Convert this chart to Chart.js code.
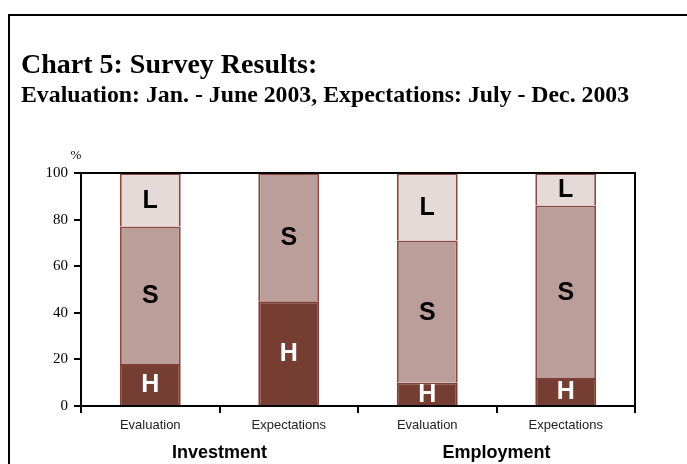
<!DOCTYPE html>
<html>
<head>
<meta charset="utf-8">
<script src="https://cdn.jsdelivr.net/npm/chart.js@4"></script>
<style>
  html, body { margin: 0; padding: 0; background: #fff; }
  #wrap { position: relative; width: 687px; height: 464px; }
</style>
</head>
<body>
<div id="wrap"><canvas id="survey_chart" width="687" height="464"></canvas></div>
<script>
// categories and groups
var categories = ['Evaluation', 'Expectations', 'Evaluation', 'Expectations'];
var groups = ['Investment', 'Employment'];
// shares in % (H = high, S = same, L = low)
var hValues = [18, 45, 10, 12];
var sValues = [59, 55, 61, 74];
var lValues = [23, 0, 29, 14];
var segmentNames = ['H', 'S', 'L'];
var yTicks = [0, 20, 40, 60, 80, 100];

var titleText = 'Chart 5: Survey Results:';
var subtitleText = 'Evaluation: Jan. - June 2003, Expectations: July - Dec. 2003';

// frame, titles, plot box and the letters in the bars
var decorations = {
    id: 'decorations',
    beforeDraw: function(chart) {
        var c = chart.ctx;
        c.save();
        c.fillStyle = '#fff';
        c.fillRect(0, 0, chart.width, chart.height);
        c.strokeStyle = '#000';
        c.lineWidth = 2;
        c.beginPath();
        c.moveTo(9, chart.height);
        c.lineTo(9, 15);
        c.lineTo(chart.width, 15);
        c.stroke();
        c.fillStyle = '#000';
        c.textBaseline = 'alphabetic';
        c.font = 'bold 28px "Liberation Serif"';
        c.fillText(titleText, 21, 73);
        c.font = 'bold 23.8px "Liberation Serif"';
        c.fillText(subtitleText, 21, 102);
        c.font = '13px "Liberation Serif"';
        c.textAlign = 'center';
        c.fillText('%', chart.chartArea.left - 5, chart.chartArea.top - 14);
        c.restore();
    },
    afterDraw: function(chart) {
        var a = chart.chartArea;
        var c = chart.ctx;
        c.save();
        c.strokeStyle = '#000';
        c.lineWidth = 2;
        c.strokeRect(a.left, a.top, a.right - a.left, a.bottom - a.top);
        c.textAlign = 'center';
        c.textBaseline = 'middle';
        c.font = 'bold 25px "Liberation Sans"';
        chart.data.datasets.forEach(function(ds, i) {
            var meta = chart.getDatasetMeta(i);
            meta.data.forEach(function(bar, j) {
                if (!ds.data[j]) return;
                c.fillStyle = i === 0 ? '#fff' : '#000';
                c.fillText(segmentNames[i], bar.x, (bar.y + bar.base) / 2 + 1);
            });
        });
        c.restore();
    }
};

function init() {
    var ctx = document.getElementById('survey_chart').getContext('2d');
    new Chart(ctx, {
        type: 'bar',
        data: {
            labels: categories,
            datasets: [
                { label: 'H', data: hValues, backgroundColor: '#763d33', borderColor: '#7e4036', borderWidth: 2 },
                { label: 'S', data: sValues, backgroundColor: '#bb9e99', borderColor: '#8a4a40', borderWidth: 2 },
                { label: 'L', data: lValues, backgroundColor: '#e6dad8', borderColor: '#8a4a40', borderWidth: 2 }
            ]
        },
        options: {
            responsive: false,
            animation: false,
            layout: { padding: { top: 173, right: 52, left: 0, bottom: 0 } },
            datasets: { bar: { categoryPercentage: 1, barPercentage: 0.44 } },
            plugins: {
                legend: { display: false },
                tooltip: { enabled: false }
            },
            scales: {
                x: {
                    stacked: true,
                    offset: true,
                    grid: { offset: true, drawOnChartArea: false, tickLength: 7, color: '#000', lineWidth: 2 },
                    border: { color: '#000', width: 2 },
                    ticks: { color: '#222', padding: 5, maxRotation: 0, font: { family: 'Liberation Sans', size: 13 } },
                    afterFit: function(s) { s.height = 27; }
                },
                x2: {
                    type: 'category',
                    labels: groups,
                    position: 'bottom',
                    offset: true,
                    grid: { display: false, drawTicks: false },
                    border: { display: false },
                    ticks: { color: '#000', padding: 9, font: { family: 'Liberation Sans', size: 18, weight: 'bold' } },
                    afterFit: function(s) { s.height = 31; }
                },
                y: {
                    stacked: true,
                    min: 0,
                    max: 100,
                    afterBuildTicks: function(s) { s.ticks = yTicks.map(function(v) { return { value: v }; }); },
                    grid: { drawOnChartArea: false, tickLength: 7, color: '#000', lineWidth: 2 },
                    border: { color: '#000', width: 2 },
                    ticks: { color: '#000', padding: 6, font: { family: 'Liberation Serif', size: 15 } },
                    afterFit: function(s) { s.width = 81; }
                }
            }
        },
        plugins: [decorations]
    });
}

window.onload = init;
</script>
</body>
</html>
